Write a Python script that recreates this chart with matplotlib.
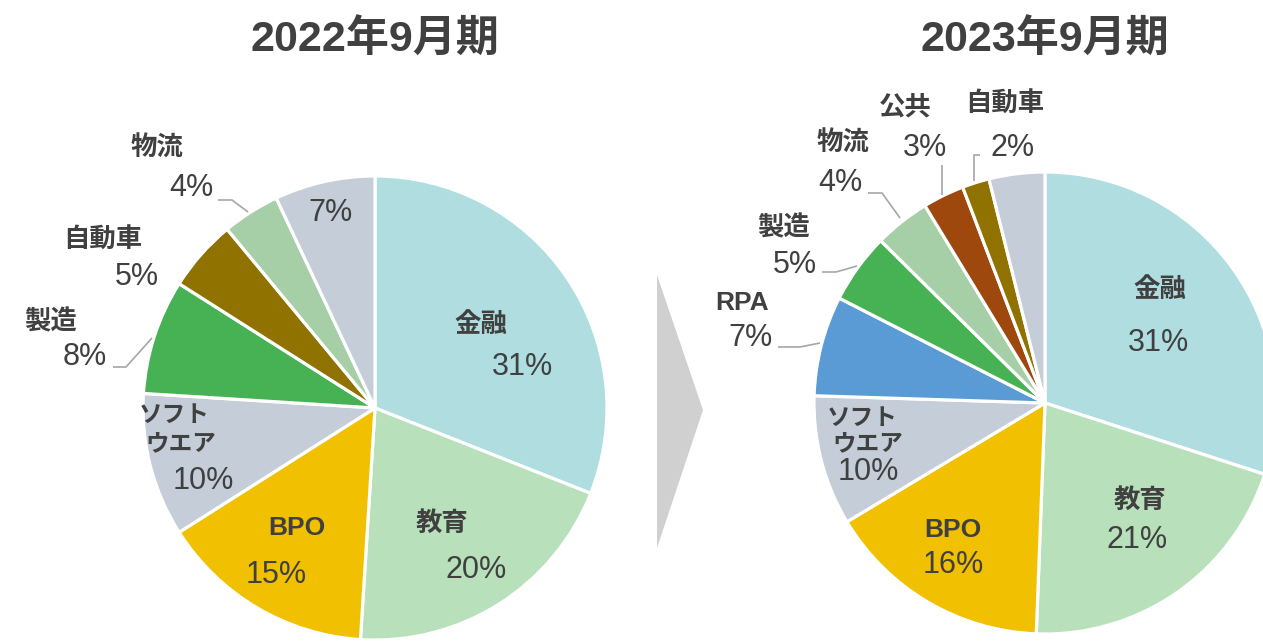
import matplotlib
matplotlib.use("Agg")
import matplotlib.pyplot as plt
import numpy as np

# ---- data ----
left_title = "2022年9月期"
left_cats = ["金融", "教育", "BPO", "ソフトウエア", "製造", "自動車", "物流", "その他"]
left_vals = [31, 20, 15, 10, 8, 5, 4, 7]
left_pct = ["31%", "20%", "15%", "10%", "8%", "5%", "4%", "7%"]

right_title = "2023年9月期"
right_cats = ["金融", "教育", "BPO", "ソフトウエア", "RPA", "製造", "物流", "公共", "自動車", "その他"]
right_vals = [30.0, 20.6, 15.8, 9.1, 7.0, 4.9, 3.9, 2.9, 1.9, 3.9]
right_pct = ["31%", "21%", "16%", "10%", "7%", "5%", "4%", "3%", "2%", ""]

colors = {
    "金融": "#B0DDE0", "教育": "#B7E0BB", "BPO": "#F1C000", "ソフトウエア": "#C4CDD8",
    "製造": "#47B253", "自動車": "#8F7200", "物流": "#A6CFA8", "その他": "#C4CDD8",
    "RPA": "#5B9BD5", "公共": "#9E480E",
}

W, H = 1263, 641
TXT = "#404040"
LEAD = "#A6A6A6"
FAM = ["Liberation Sans", "Noto Sans CJK JP"]

fig = plt.figure(figsize=(W / 100, H / 100), dpi=100)
ax = fig.add_axes([0, 0, 1, 1])


def Y(py):
    return H - py


def draw_pie(vals, cats, center, radius):
    ax.pie(vals, colors=[colors[c] for c in cats], startangle=90, counterclock=False,
           center=center, radius=radius, normalize=True,
           wedgeprops=dict(edgecolor="white", linewidth=2.3), frame=False)


draw_pie(left_vals, left_cats, (375, Y(408)), 232)
draw_pie(right_vals, right_cats, (1045, Y(403)), 231)
ax.set_xlim(0, W)
ax.set_ylim(0, H)
ax.set_aspect("equal")
ax.axis("off")


def name(x, y, s, size=19):
    ax.text(x, Y(y), s, ha="center", va="center", fontsize=size, fontweight="bold",
            color=TXT, family=FAM)


def pct(x, y, s):
    ax.text(x, Y(y), s, ha="center", va="center", fontsize=22, color=TXT, family=FAM)


def lead(pts):
    xs = [p[0] for p in pts]
    ys = [Y(p[1]) for p in pts]
    ax.plot(xs, ys, color=LEAD, lw=1.2, solid_capstyle="butt")


# titles
ax.text(375, Y(40), left_title, ha="center", va="center", fontsize=31, fontweight="bold",
        color=TXT, family=FAM)
ax.text(1045, Y(40), right_title, ha="center", va="center", fontsize=31, fontweight="bold",
        color=TXT, family=FAM)

# left labels
name(481, 325, left_cats[0]); pct(522, 367, left_pct[0])
name(442, 523, left_cats[1]); pct(476, 570, left_pct[1])
name(297, 528, left_cats[2]); pct(276, 575, left_pct[2])
name(174, 415, "ソフト", 17); name(181, 445, "ウエア", 17); pct(203, 481, left_pct[3])
name(51, 322, left_cats[4]); pct(85, 357, left_pct[4])
lead([(113, 367), (126, 367), (152, 338)])
name(103, 240, left_cats[5]); pct(137, 277, left_pct[5])
name(157, 148, left_cats[6]); pct(191, 188, left_pct[6])
lead([(218, 200), (232, 200), (248, 212)])
pct(330, 213, left_pct[7])

# right labels
name(1160, 290, right_cats[0]); pct(1158, 343, right_pct[0])
name(1140, 500, right_cats[1]); pct(1137, 540, right_pct[1])
name(953, 530, right_cats[2]); pct(953, 565, right_pct[2])
name(862, 418, "ソフト", 17); name(868, 445, "ウエア", 17); pct(868, 472, right_pct[3])
name(742, 303, right_cats[4]); pct(750, 338, right_pct[4])
lead([(778, 347), (800, 347), (820, 343)])
name(784, 228, right_cats[5]); pct(795, 265, right_pct[5])
lead([(822, 272), (836, 272), (857, 266)])
name(843, 143, right_cats[6]); pct(840, 183, right_pct[6])
lead([(868, 193), (882, 193), (900, 218)])
name(905, 108, right_cats[7]); pct(925, 148, right_pct[7])
lead([(942, 165), (942, 195)])
name(1005, 104, right_cats[8]); pct(1013, 148, right_pct[8])
lead([(980, 155), (974, 155), (974, 181)])

# arrow
ax.add_patch(plt.Polygon([(657, Y(275)), (703, Y(410)), (657, Y(548))], closed=True,
                         facecolor="#D0D0D0", edgecolor="none"))

fig.savefig("out.png", dpi=100, facecolor="white")
